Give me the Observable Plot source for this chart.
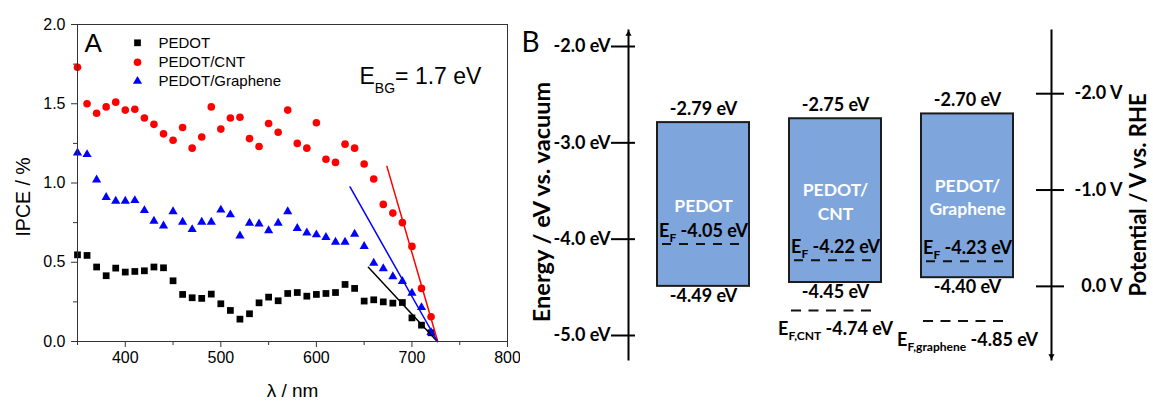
<!DOCTYPE html>
<html><head><meta charset="utf-8">
<script src="https://cdn.jsdelivr.net/npm/d3@7"></script>
<script src="https://cdn.jsdelivr.net/npm/@observablehq/plot@0.6"></script>
<style>
html,body{margin:0;padding:0;background:#fff;}
#wrap{position:relative;width:1153px;height:401px;overflow:hidden;background:#fff;}
#a{position:absolute;left:0;top:0;}
#b{position:absolute;left:520px;top:0;}
</style></head><body><div id="wrap"><div id="a"></div><div id="b"></div></div>
<script>
// ---------- Panel A data ----------
const wavelength = [350,360,370,380,390,400,410,420,430,440,450,460,470,480,490,500,510,520,530,540,550,560,570,580,590,600,610,620,630,640,650,660,670,680,690,700,710,720];
const ipcePEDOT = [0.547,0.543,0.47,0.415,0.463,0.438,0.442,0.446,0.47,0.465,0.383,0.297,0.276,0.272,0.299,0.238,0.196,0.141,0.175,0.244,0.28,0.257,0.303,0.309,0.286,0.297,0.303,0.309,0.36,0.335,0.255,0.263,0.25,0.242,0.246,0.149,0.103,0.055];
const ipceCNT = [1.73,1.50,1.44,1.48,1.51,1.46,1.465,1.41,1.37,1.31,1.27,1.35,1.22,1.29,1.48,1.34,1.41,1.415,1.28,1.23,1.375,1.32,1.46,1.25,1.22,1.38,1.15,1.13,1.245,1.22,1.12,1.025,0.865,0.81,0.75,0.60,0.335,0.156];
const ipceGraphene = [1.19,1.18,1.02,0.91,0.886,0.886,0.89,0.827,0.76,0.73,0.82,0.754,0.707,0.754,0.754,0.83,0.80,0.667,0.747,0.743,0.70,0.747,0.82,0.714,0.686,0.674,0.657,0.627,0.627,0.678,0.60,0.495,0.46,0.41,0.38,0.305,0.215,0.057];
const fitPEDOT = [[654.4,0.468],[726.5,0]];
const fitCNT = [[673.8,1.105],[727.0,0]];
const fitGraphene = [[635.2,0.975],[726.7,0]];
const seriesNames = ["PEDOT","PEDOT/CNT","PEDOT/Graphene"];
const bandGapLabel = "E_{BG}= 1.7 eV";
const xMajorTicks = [400,500,600,700,800];
const xMinorTicks = [350,450,550,650,750];
const yMajorTicks = [0,0.5,1.0,1.5,2.0];
const yMinorTicks = [0.25,0.75,1.25,1.75];

// ---------- Panel B data ----------
const materials = ["PEDOT","PEDOT/CNT","PEDOT/Graphene"];
const boxLabels = ["PEDOT","PEDOT/\nCNT","PEDOT/\nGraphene"];
const lumo = [-2.79,-2.75,-2.70];
const homo = [-4.49,-4.45,-4.40];
const fermi = [-4.05,-4.22,-4.23];
const fillerMaterials = ["PEDOT/CNT","PEDOT/Graphene"];
const fillerNames = ["CNT","graphene"];
const fillerFermi = [-4.74,-4.85];
const energyTicks = [-2,-3,-4,-5];
const rheTicks = [-2,-1,0];
const rheZeroEV = -4.49;

// ---------- styles ----------
const colors = ["#000000","#ff0000","#0000ff"];
const symbols = ["square","circle","triangle"];
const radii = [3.8,3.8,3.4];
const BOLD = 700;
const FS = 18;

function rows(values){ return wavelength.map((w,i)=>({w, v: values[i]})); }
const seriesValues = [ipcePEDOT, ipceCNT, ipceGraphene];
const fits = [fitPEDOT, fitCNT, fitGraphene];

function subscripts(svg, subRatio, shiftRatio){
  const ns = "http://www.w3.org/2000/svg";
  svg.querySelectorAll("text").forEach(t => {
    const leaves = t.querySelectorAll("tspan").length ? [...t.querySelectorAll("tspan")] : [t];
    leaves.forEach(n => {
      const s = n.textContent;
      if (!s.includes("_{")) return;
      const fs = parseFloat(getComputedStyle(n).fontSize);
      const subFs = fs*subRatio, sh = fs*shiftRatio;
      const parts = s.split(/_\{([^}]*)\}/);
      n.textContent = "";
      let shifted = false;
      parts.forEach((p,i)=>{
        if (!p) return;
        const ts = document.createElementNS(ns,"tspan");
        ts.textContent = p;
        if (i%2===1){ ts.setAttribute("font-size", subFs); ts.setAttribute("dy", sh); shifted = true; }
        else if (shifted){ ts.setAttribute("dy", -sh); shifted = false; }
        n.appendChild(ts);
      });
    });
  });
}

// ---------- Panel A ----------
const legendDy = [18.3, 37.7, 56.7];
const plotA = Plot.plot({
  width: 520, height: 401,
  marginLeft: 77, marginRight: 13, marginTop: 24, marginBottom: 60,
  style: {fontFamily: "'Liberation Sans', Arial, sans-serif", color: "#000", background: "#fff"},
  x: {domain: [350, 800]},
  y: {domain: [0, 2]},
  marks: [
    Plot.axisX({ticks: xMajorTicks, tickSize: 6, tickPadding: 4, fontSize: 16, label: null, tickFormat: d => String(d), stroke: "#333"}),
    Plot.axisX({ticks: xMinorTicks, tickSize: 4, label: null, tickFormat: () => "", stroke: "#333"}),
    Plot.axisY({ticks: yMajorTicks, tickSize: 6, tickPadding: 6, fontSize: 16, label: null, tickFormat: d3.format(".1f"), stroke: "#333"}),
    Plot.axisY({ticks: yMinorTicks, tickSize: 4, label: null, tickFormat: () => "", stroke: "#333"}),
    ...seriesValues.map((vals,i) => Plot.dot(rows(vals), {x: "w", y: "v", symbol: symbols[i], r: radii[i], fill: colors[i], stroke: "none"})),
    ...fits.map((f,i) => Plot.line(f, {x: d => d[0], y: d => d[1], stroke: colors[i], strokeWidth: 1.5})),
    Plot.frame({stroke: "#333"}),
    ...seriesNames.map((n,i) => Plot.dot([n], {frameAnchor: "top-left", dx: 60, dy: legendDy[i], symbol: symbols[i], r: radii[i], fill: colors[i], stroke: "none"})),
    ...seriesNames.map((n,i) => Plot.text([n], {frameAnchor: "top-left", dx: 81, dy: legendDy[i], text: d => d, textAnchor: "start", lineAnchor: "middle", fontSize: 15})),
    Plot.text(["A"], {frameAnchor: "top-left", dx: 7, dy: 9, text: d => d, textAnchor: "start", lineAnchor: "top", fontSize: 26}),
    Plot.text([bandGapLabel], {frameAnchor: "top-left", dx: 282, dy: 42.7, text: d => d, textAnchor: "start", lineAnchor: "top", fontSize: 23}),
    Plot.text(["λ / nm"], {frameAnchor: "bottom", dy: 49, text: d => d, textAnchor: "middle", lineAnchor: "middle", fontSize: 19}),
    Plot.text(["IPCE / %"], {frameAnchor: "left", dx: -54, dy: 14, rotate: -90, text: d => d, textAnchor: "middle", lineAnchor: "middle", fontSize: 19.5})
  ]
});
document.getElementById("a").appendChild(plotA);
subscripts(plotA, 0.61, 0.41);

// ---------- Panel B ----------
const boxes = materials.map((m,i)=>({material: m, label: boxLabels[i], lumo: lumo[i], homo: homo[i], fermi: fermi[i]}));
const fillers = fillerMaterials.map((m,i)=>({material: m, filler: fillerNames[i], fermi: fillerFermi[i]}));
const plotB = Plot.plot({
  width: 633, height: 401,
  marginLeft: 108, marginRight: 102, marginTop: 30, marginBottom: 42,
  style: {fontFamily: "Lato, 'Open Sans', sans-serif", fontWeight: "bold", color: "#000", background: "#fff"},
  x: {type: "band", domain: materials, range: [135.7, 494.7], paddingInner: 0.3, paddingOuter: 0, axis: null},
  y: {domain: [-2, -5], range: [46, 335]},
  marks: [
    Plot.frame({anchor: "left", strokeWidth: 2, stroke: "#000"}),
    Plot.frame({anchor: "right", strokeWidth: 2, stroke: "#000"}),
    Plot.dot([0], {frameAnchor: "top-left", symbol: "triangle", r: 2.3, fill: "#000", dy: 3.5}),
    Plot.dot([0], {frameAnchor: "bottom-right", symbol: "triangle", r: 2.3, fill: "#000", rotate: 180, dy: -3.5}),
    Plot.axisY({anchor: "left", ticks: energyTicks, tickSize: 24, dx: 7, tickPadding: 1, strokeWidth: 2, fontSize: FS, fontWeight: BOLD, label: null, tickFormat: d => `${d.toFixed(1)} eV`}),
    Plot.axisY({anchor: "right", ticks: rheTicks.map(v => rheZeroEV - v), tickSize: 28, dx: -16, tickPadding: 59, textAnchor: "end", strokeWidth: 2, fontSize: FS, fontWeight: BOLD, label: null, tickFormat: e => `${(rheZeroEV - e).toFixed(1)} V`}),
    Plot.barY(boxes, {x: "material", y1: "homo", y2: "lumo", fill: "#7ea6dc", stroke: "#1c1c1c", strokeWidth: 2}),
    Plot.tickY(boxes, {x: "material", y: "fermi", stroke: "#111", strokeWidth: 2, strokeDasharray: "9,8", insetLeft: 5, insetRight: 6}),
    Plot.tickY(fillers, {x: "material", y: "fermi", stroke: "#111", strokeWidth: 2, strokeDasharray: "10,7.5", insetLeft: 2, insetRight: 10}),
    Plot.text(boxes, {x: "material", y: "lumo", text: d => `${d.lumo.toFixed(2)} eV`, dy: -13.8, fontSize: FS, fontWeight: BOLD, lineAnchor: "middle"}),
    Plot.text(boxes, {x: "material", y: "homo", text: d => `${d.homo.toFixed(2)} eV`, dy: 9.7, fontSize: FS, fontWeight: BOLD, lineAnchor: "middle"}),
    Plot.text(boxes, {x: "material", y: d => (d.lumo + d.homo)/2, text: "label", fill: "#fff", fontSize: 17.5, fontWeight: BOLD, lineHeight: 1.32, lineAnchor: "middle"}),
    Plot.text(boxes, {x: "material", y: "fermi", text: d => `E_{F} ${d.fermi.toFixed(2)} eV`, dy: -13.2, fontSize: FS, fontWeight: BOLD, lineAnchor: "middle"}),
    Plot.text(fillers, {x: "material", y: "fermi", text: d => `E_{F,${d.filler}} ${d.fermi.toFixed(2)} eV`, dy: 18.7, fontSize: FS, fontWeight: BOLD, lineAnchor: "middle"}),
    Plot.text(["B"], {frameAnchor: "top-left", dx: -107, dy: 2, text: d => d, fontSize: 28, fontWeight: "normal", textAnchor: "start", lineAnchor: "top"}),
    Plot.text(["Energy / eV vs. vacuum"], {frameAnchor: "left", dx: -86, dy: 7, rotate: -90, text: d => d, fontSize: 23.5, fontWeight: BOLD, textAnchor: "middle", lineAnchor: "middle"}),
    Plot.text(["Potential / V vs. RHE"], {frameAnchor: "right", dx: 87, dy: 0, rotate: -90, text: d => d, fontSize: 22, fontWeight: BOLD, textAnchor: "middle", lineAnchor: "middle"})
  ]
});
document.getElementById("b").appendChild(plotB);
subscripts(plotB, 0.67, 0.3);
</script></body></html>
